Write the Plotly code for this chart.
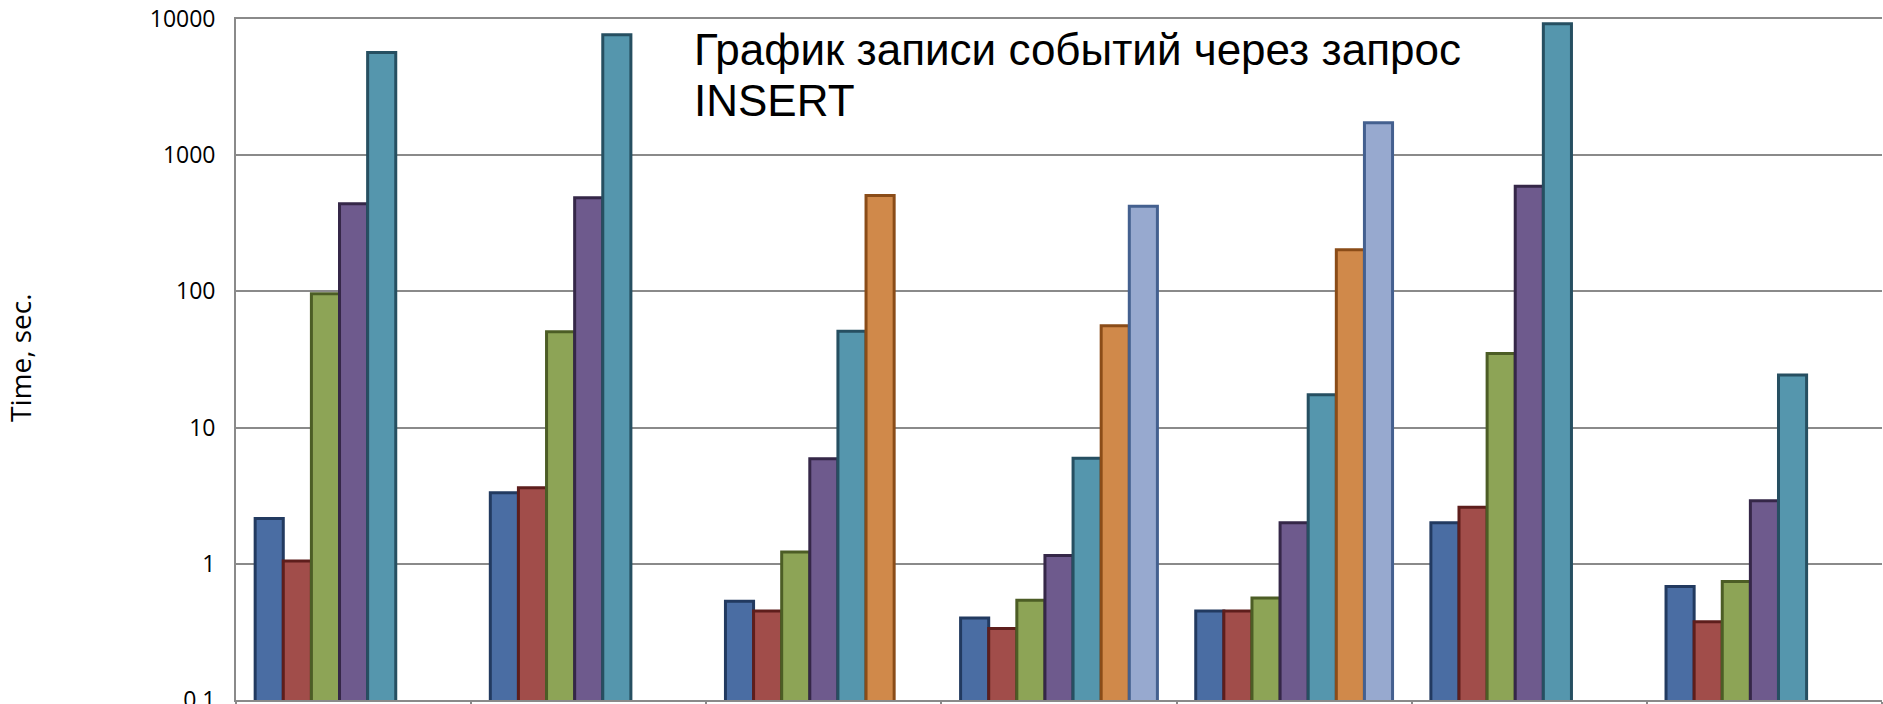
import plotly.graph_objects as go

# Test runs (x axis categories, labels hidden)
runs = ["Run 1", "Run 2", "Run 3", "Run 4", "Run 5", "Run 6", "Run 7"]

# Elapsed time per series, seconds (None = not measured)
series_1 = [2.15, 3.33, 0.53, 0.40, 0.45, 2.0, 0.68]
series_2 = [1.05, 3.61, 0.45, 0.335, 0.45, 2.6, 0.375]
series_3 = [96, 50.5, 1.22, 0.54, 0.56, 35, 0.74]
series_4 = [441, 488, 5.9, 1.15, 2.0, 591, 2.9]
series_5 = [5680, 7660, 51, 5.95, 17.4, 9230, 24.3]
series_6 = [None, None, 507, 56, 202, None, None]
series_7 = [None, None, None, 421, 1730, None, None]

y_tick_values = [0.1, 1, 10, 100, 1000, 10000]
y_tick_labels = ["0.1", "1", "10", "100", "1000", "10000"]

title_line_1 = "График записи событий через запрос"
title_line_2 = "INSERT"
y_title = "Time, sec."

all_series = [series_1, series_2, series_3, series_4, series_5, series_6, series_7]
fills = ["#4A6DA3", "#A14D4A", "#8DA456", "#6E5A8D", "#5596AD", "#D0894A", "#97A9CF"]
edges = ["#223a60", "#5e1e1c", "#4c5d25", "#352748", "#264f61", "#8a4c18", "#44608f"]

fig = go.Figure()
for vals, fc, ec in zip(all_series, fills, edges):
    fig.add_trace(go.Bar(
        x=runs, y=vals,
        marker=dict(color=fc, line=dict(color=ec, width=3)),
        showlegend=False,
    ))

W, H = 1883, 704
L, R, T, B = 236, 1, 19, 4
plot_w = W - L - R
plot_h = H - T - B


def px_x(x):
    return (x - L) / plot_w


def px_y(y):
    return (H - B - y) / plot_h


fig.update_layout(
    width=W, height=H,
    margin=dict(l=L, r=R, t=T, b=B, autoexpand=False),
    paper_bgcolor="white", plot_bgcolor="white",
    barmode="group", bargap=0.163, bargroupgap=0,
    xaxis=dict(
        automargin=False,
        showticklabels=False, showgrid=False,
        showline=True, linecolor="#8a8a8a", linewidth=1.8, mirror=True,
        ticks="outside", tickson="boundaries", ticklen=8,
        tickcolor="#8a8a8a", tickwidth=1.6,
    ),
    yaxis=dict(
        automargin=False,
        type="log", range=[-1, 4],
        tickvals=y_tick_values, ticktext=y_tick_labels,
        showgrid=True, gridcolor="#8a8a8a", gridwidth=1.8,
        showline=True, linecolor="#8a8a8a", linewidth=1.8,
        ticks="", ticklabelstandoff=14, ticklabeloverflow="allow",
        tickfont=dict(family="Open Sans", size=23, color="#000000"),
    ),
    annotations=[
        dict(text=title_line_1, xref="paper", yref="paper",
             x=px_x(692), y=px_y(49), xanchor="left", yanchor="middle",
             showarrow=False,
             font=dict(family="Liberation Sans", size=44, color="black")),
        dict(text=title_line_2, xref="paper", yref="paper",
             x=px_x(692), y=px_y(100), xanchor="left", yanchor="middle",
             showarrow=False,
             font=dict(family="Liberation Sans", size=44, color="black")),
        dict(text=y_title, xref="paper", yref="paper",
             x=px_x(20), y=px_y(358), xanchor="center", yanchor="middle",
             textangle=-90, showarrow=False,
             font=dict(family="Open Sans", size=28, color="#000000")),
    ],
)

fig.write_html("out.html")
